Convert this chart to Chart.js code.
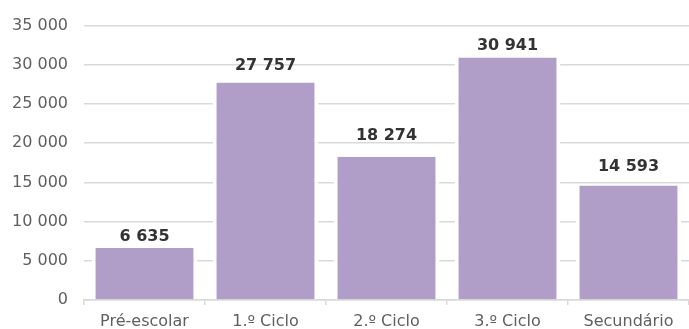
<!DOCTYPE html>
<html>
<head>
<meta charset="utf-8">
<script src="https://cdn.jsdelivr.net/npm/chart.js@4/dist/chart.umd.min.js"></script>
<style>
  html, body { margin: 0; padding: 0; background: #fff; }
  #wrap { width: 689px; height: 329px; }
</style>
</head>
<body>
<div id="wrap"><canvas id="alunosChart" width="689" height="329"></canvas></div>
<script>
const categories = ['Pré-escolar', '1.º Ciclo', '2.º Ciclo', '3.º Ciclo', 'Secundário'];
const alunos = [6635, 27757, 18274, 30941, 14593];
const yTicks = [0, 5000, 10000, 15000, 20000, 25000, 30000, 35000];

// numbers with a space as thousands separator, e.g. 27 757
function fmt(v) {
    return String(v).replace(/\B(?=(\d{3})+(?!\d))/g, ' ');
}

// value above each bar; gaps (px) between bar top and text baseline
const valueLabels = {
    id: 'valueLabels',
    afterDatasetsDraw(chart, args, opts) {
        const ctx = chart.ctx;
        const meta = chart.getDatasetMeta(0);
        const gaps = opts.gaps || [];
        ctx.save();
        ctx.font = 'bold 16px "DejaVu Sans"';
        ctx.fillStyle = '#333333';
        ctx.textAlign = 'center';
        ctx.textBaseline = 'alphabetic';
        meta.data.forEach(function (bar, i) {
            ctx.fillText(fmt(alunos[i]), bar.x, bar.y - (gaps[i] || 7));
        });
        ctx.restore();
    }
};

const ctx = document.getElementById('alunosChart').getContext('2d');
new Chart(ctx, {
    type: 'bar',
    data: {
        labels: categories,
        datasets: [{
            data: alunos,
            backgroundColor: '#b09ec9',
            borderColor: '#ffffff',
            borderWidth: { left: 4, right: 4, top: 0, bottom: 0 },
            borderSkipped: false,
            barPercentage: 0.875,
            categoryPercentage: 1
        }]
    },
    options: {
        responsive: false,
        animation: false,
        layout: { padding: { top: 13, right: 0, bottom: 0, left: 0 } },
        plugins: {
            legend: { display: false },
            tooltip: { enabled: false },
            valueLabels: { gaps: [7, 12, 17, 7, 15] }
        },
        scales: {
            y: {
                min: 0,
                max: 35000,
                afterBuildTicks(axis) {
                    axis.ticks = yTicks.map(v => ({ value: v }));
                },
                afterFit(axis) { axis.width = 84; },
                grid: { color: '#d9d9d9', lineWidth: 1.5, drawTicks: false },
                border: { display: false },
                ticks: {
                    padding: 16,
                    color: '#5f5f5f',
                    font: { family: 'DejaVu Sans', size: 16 },
                    callback: v => fmt(v)
                }
            },
            x: {
                afterFit(axis) { axis.height = 29; },
                grid: {
                    drawOnChartArea: false,
                    color: '#d9d9d9',
                    lineWidth: 1.5,
                    tickLength: 5
                },
                border: { color: '#d9d9d9', width: 1.5 },
                ticks: {
                    padding: 7,
                    color: '#5f5f5f',
                    font: { family: 'DejaVu Sans', size: 16 }
                }
            }
        }
    },
    plugins: [valueLabels]
});
</script>
</body>
</html>
